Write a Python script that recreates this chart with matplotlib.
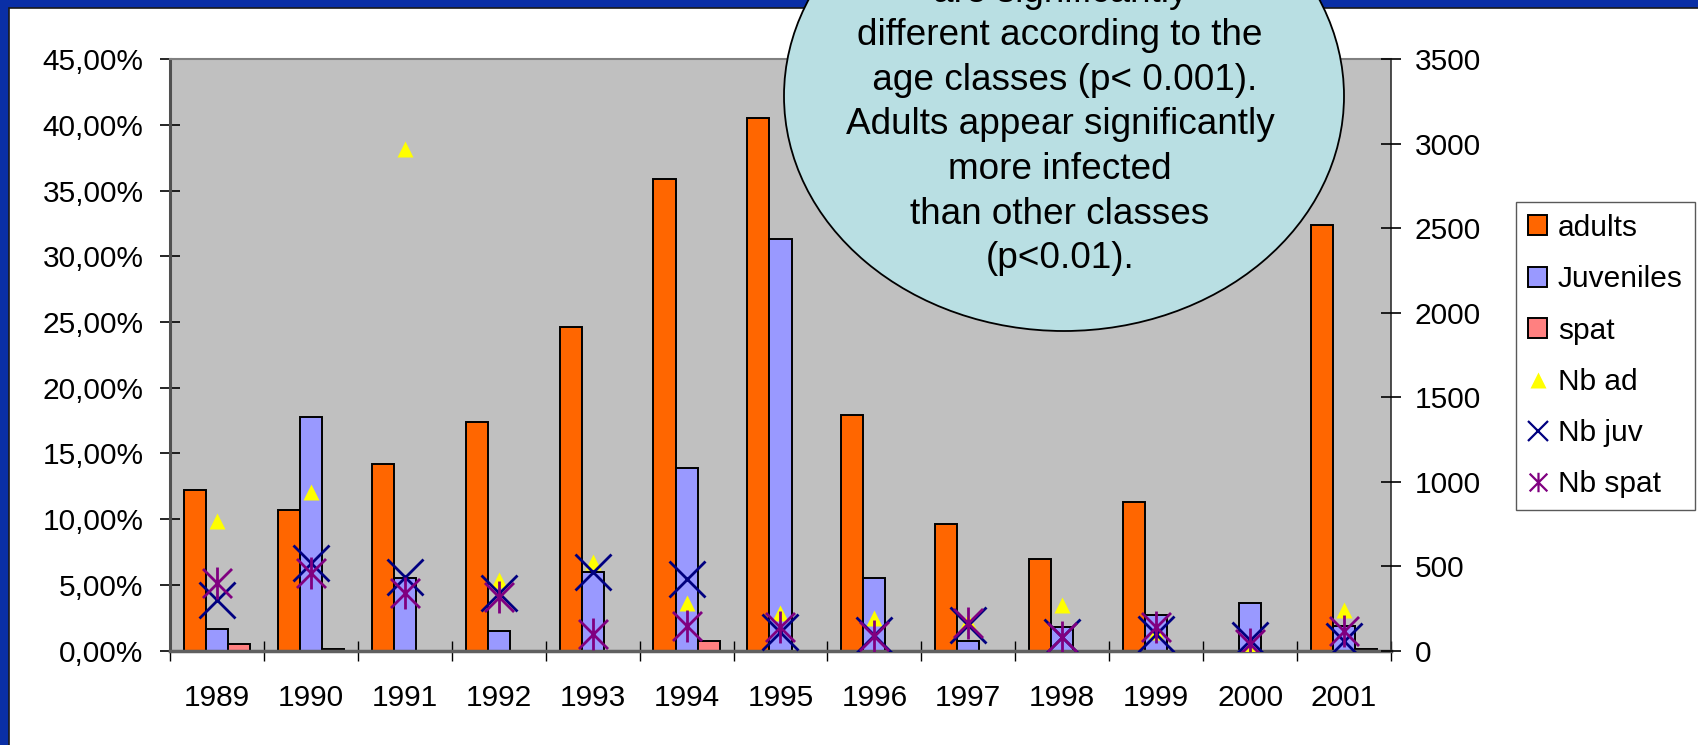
import numpy as np
import matplotlib
matplotlib.use("Agg")
import matplotlib.pyplot as plt
from matplotlib.patches import Ellipse, Rectangle, Patch
from matplotlib.lines import Line2D
from matplotlib.path import Path
from matplotlib.ticker import FuncFormatter, MultipleLocator

plt.rcParams['font.family'] = ['Liberation Sans', 'DejaVu Sans']

# data
years = ['1989', '1990', '1991', '1992', '1993', '1994', '1995',
         '1996', '1997', '1998', '1999', '2000', '2001']
adults = [12.2, 10.7, 14.2, 17.4, 24.6, 35.9, 40.5, 17.9, 9.6, 7.0, 11.3, np.nan, 32.4]
juveniles = [1.6, 17.8, 5.5, 1.45, 6.0, 13.9, 31.3, 5.5, 0.7, 1.8, 2.7, 3.65, 1.9]
spat = [0.5, 0.12, np.nan, np.nan, np.nan, 0.7, np.nan, np.nan, np.nan, np.nan, np.nan, np.nan, 0.08]
nb_ad = [765, 940, 2970, 420, 525, 280, 220, 190, 175, 270, 110, 15, 240]
nb_juv = [300, 517, 437, 339, 467, 424, 110, 90, 150, 80, 95, 65, 55]
nb_spat = [398, 458, 339, 319, 100, 145, 140, 88, 160, 80, 140, 38, 115]

note_lines = ["are significantly",
              "different according to the",
              " age classes (p< 0.001).",
              "Adults appear significantly",
              "more infected",
              "than other classes",
              "(p<0.01)."]

W, H = 1698, 745
fig = plt.figure(figsize=(W / 100, H / 100), dpi=100, facecolor='#0a2fa6')

# white chart area inside the blue slide border
fig.add_artist(Rectangle((9 / W, -0.01), 1.0, 1 - 8 / H + 0.01, transform=fig.transFigure,
                         facecolor='white', edgecolor='#1a1a1a', linewidth=1.2, zorder=-10))

left, top, right, bottom = 170, 59.3, 1391, 650.5
ax = fig.add_axes([left / W, 1 - bottom / H, (right - left) / W, (bottom - top) / H])
ax.set_facecolor('#c0c0c0')

x = np.arange(len(years))
bw = 0.235
ax.bar(x - bw, adults, bw, color='#ff6600', edgecolor='black', linewidth=1.4, label='adults', zorder=2)
ax.bar(x, juveniles, bw, color='#9999ff', edgecolor='black', linewidth=1.4, label='Juveniles', zorder=2)
ax.bar(x + bw, spat, bw, color='#ff8080', edgecolor='black', linewidth=1.4, label='spat', zorder=2)

ax.set_xlim(-0.5, len(years) - 0.5)
ax.set_ylim(0, 45)
ax.yaxis.set_major_locator(MultipleLocator(5))
ax.yaxis.set_major_formatter(FuncFormatter(lambda v, p: f"{v:.2f}%".replace('.', ',')))
ax.tick_params(axis='y', direction='inout', length=14, width=1.2, labelsize=21.5, pad=12)
ax.set_xticks(x)
ax.set_xticklabels(years)
ax.tick_params(axis='x', which='major', length=0, labelsize=21.5, pad=24)
ax.set_xticks(np.arange(-0.5, len(years)), minor=True)
ax.tick_params(axis='x', which='minor', direction='inout', length=14, width=1.0)

for side, col, lw in [('left', '#505050', 2.2), ('top', '#808080', 1.5),
                      ('right', '#303030', 1.2), ('bottom', '#606060', 2.5)]:
    ax.spines[side].set_color(col)
    ax.spines[side].set_linewidth(lw)

ax2 = ax.twinx()
ax2.set_ylim(0, 3500)
ax2.yaxis.set_major_locator(MultipleLocator(500))
ax2.tick_params(axis='y', direction='inout', length=14, width=1.2, labelsize=21.5, pad=10)
for s in ax2.spines.values():
    s.set_visible(False)

# asterisk marker: X with a vertical stroke
star = Path([(-1, -1), (1, 1), (-1, 1), (1, -1), (0, -1.1), (0, 1.1)],
            [Path.MOVETO, Path.LINETO, Path.MOVETO, Path.LINETO, Path.MOVETO, Path.LINETO])

ax2.plot(x, nb_ad, linestyle='none', marker='^', ms=12, color='#ffff00', mec='none', zorder=3)
ax2.plot(x, nb_juv, linestyle='none', marker='x', ms=26, color='#000080', mew=2.0, zorder=3)
ax2.plot(x, nb_spat, linestyle='none', marker=star, ms=23, color='#800080', mew=2.0,
         mfc='none', zorder=4)

handles = [
    Patch(facecolor='#ff6600', edgecolor='black', linewidth=1.4),
    Patch(facecolor='#9999ff', edgecolor='black', linewidth=1.4),
    Patch(facecolor='#ff8080', edgecolor='black', linewidth=1.4),
    Line2D([], [], linestyle='none', marker='^', ms=12, color='#ffff00', mec='none'),
    Line2D([], [], linestyle='none', marker='x', ms=15, color='#000080', mew=1.6),
    Line2D([], [], linestyle='none', marker=star, ms=14, color='#800080', mew=1.6, mfc='none'),
]
labels = ['adults', 'Juveniles', 'spat', 'Nb ad', 'Nb juv', 'Nb spat']
leg = fig.legend(handles, labels, loc='upper left', bbox_to_anchor=(1516 / W, 1 - 202 / H),
                 fontsize=21.5, frameon=True, fancybox=False, borderpad=0.4,
                 handlelength=0.65, handleheight=0.65, handletextpad=0.35,
                 labelspacing=0.78, borderaxespad=0)
leg.get_frame().set_edgecolor('#303030')
leg.get_frame().set_linewidth(1.0)

# callout bubble
fig.add_artist(Ellipse((1064 / W, 1 - 96 / H), 560 / W, 470 / H, transform=fig.transFigure,
                       facecolor='#b9dfe3', edgecolor='black', linewidth=1.3, zorder=10))
baselines = [2, 45, 90, 133.5, 179, 224, 268]
for s, yb in zip(note_lines, baselines):
    fig.text(1060 / W, 1 - yb / H, s, ha='center', va='baseline', fontsize=26.6,
             color='black', zorder=11)

fig.savefig('out.png', dpi=100, facecolor=fig.get_facecolor())
